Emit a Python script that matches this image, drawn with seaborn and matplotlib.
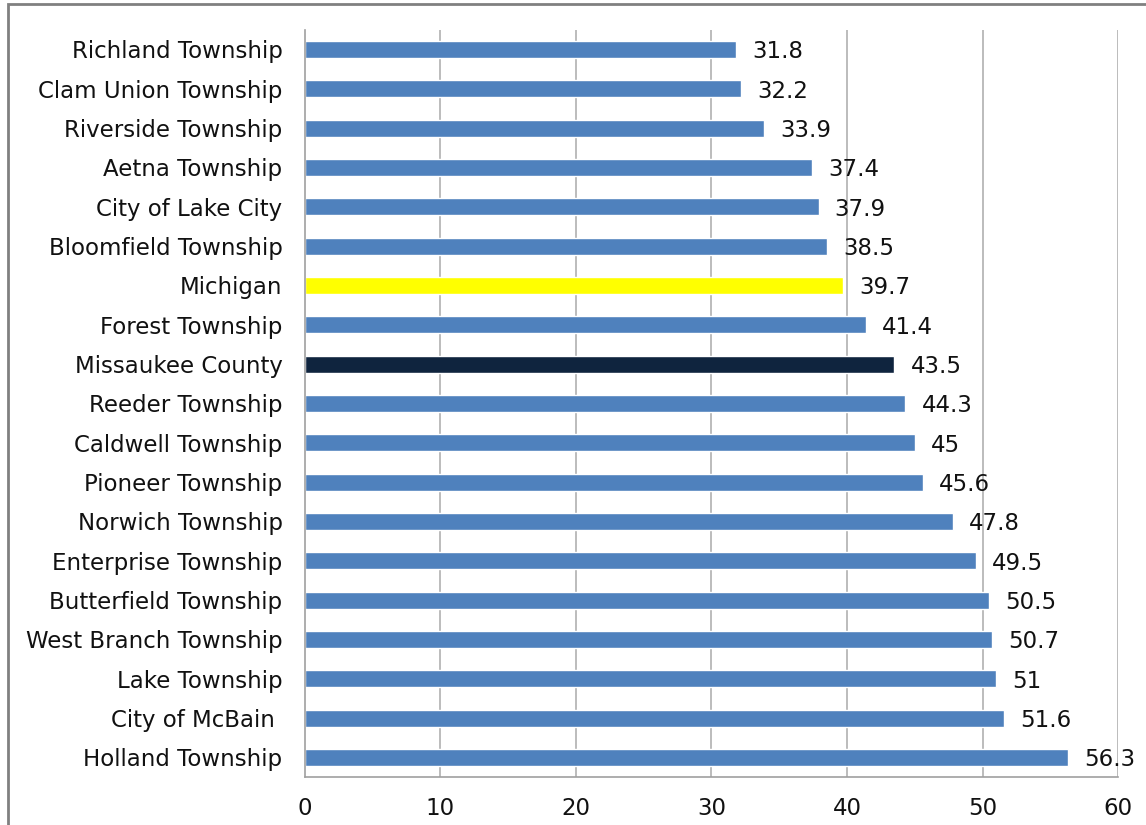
import matplotlib
matplotlib.use("Agg")
import matplotlib.pyplot as plt
import pandas as pd
import seaborn as sns
from matplotlib.patches import Rectangle

places = ["Richland Township", "Clam Union Township", "Riverside Township", "Aetna Township",
          "City of Lake City", "Bloomfield Township", "Michigan", "Forest Township",
          "Missaukee County", "Reeder Township", "Caldwell Township", "Pioneer Township",
          "Norwich Township", "Enterprise Township", "Butterfield Township",
          "West Branch Township", "Lake Township", "City of McBain ", "Holland Township"]
values = [31.8, 32.2, 33.9, 37.4, 37.9, 38.5, 39.7, 41.4, 43.5, 44.3, 45, 45.6,
          47.8, 49.5, 50.5, 50.7, 51, 51.6, 56.3]
value_labels = ["31.8", "32.2", "33.9", "37.4", "37.9", "38.5", "39.7", "41.4", "43.5",
                "44.3", "45", "45.6", "47.8", "49.5", "50.5", "50.7", "51", "51.6", "56.3"]
x_ticks = [0, 10, 20, 30, 40, 50, 60]

colors = {p: "#4F81BD" for p in places}
colors["Michigan"] = "#FFFF00"
colors["Missaukee County"] = "#0F243E"

df = pd.DataFrame({"place": places, "value": values})

sns.set_style("white")
plt.rcParams["font.family"] = ["DejaVu Sans"]
fs = 16.5

fig = plt.figure(figsize=(11.46, 8.25), dpi=100)
ax = fig.add_axes([0.266, 0.058, 0.7096, 0.906])

sns.barplot(data=df, y="place", x="value", hue="place", palette=colors,
            order=places, width=0.43, legend=False, ax=ax, saturation=1)

ax.set_xlim(0, 60)
ax.set_ylim(len(places) - 0.5, -0.5)
ax.set_xticks(x_ticks)
ax.set_xticklabels([str(t) for t in x_ticks], fontsize=fs, color="#111111")
ax.set_yticks(range(len(places)))
ax.set_yticklabels(places, fontsize=fs, color="#111111")
ax.tick_params(axis="y", which="major", length=0, pad=16)
ax.tick_params(axis="x", length=7, color="#A0A0A0", direction="out", pad=7)
ax.set_yticks([i + 0.5 for i in range(-1, len(places))], minor=True)
ax.tick_params(axis="y", which="minor", length=7, color="#A0A0A0")
ax.set_xlabel("")
ax.set_ylabel("")

for x in x_ticks[1:]:
    ax.axvline(x, color="#B0B0B0", lw=1.2, zorder=0)
for s in ["top", "right"]:
    ax.spines[s].set_visible(False)
for s in ["left", "bottom"]:
    ax.spines[s].set_color("#A0A0A0")
    ax.spines[s].set_linewidth(1.2)

for i, (v, lab) in enumerate(zip(values, value_labels)):
    ax.text(v + 1.2, i + 0.06, lab, va="center", ha="left", fontsize=fs, color="#111111")

fig.patches.append(Rectangle((0.007, -0.1), 1.1, 1.095, transform=fig.transFigure,
                             fill=False, edgecolor="#808080", lw=2))

fig.savefig("out.png", dpi=100)
